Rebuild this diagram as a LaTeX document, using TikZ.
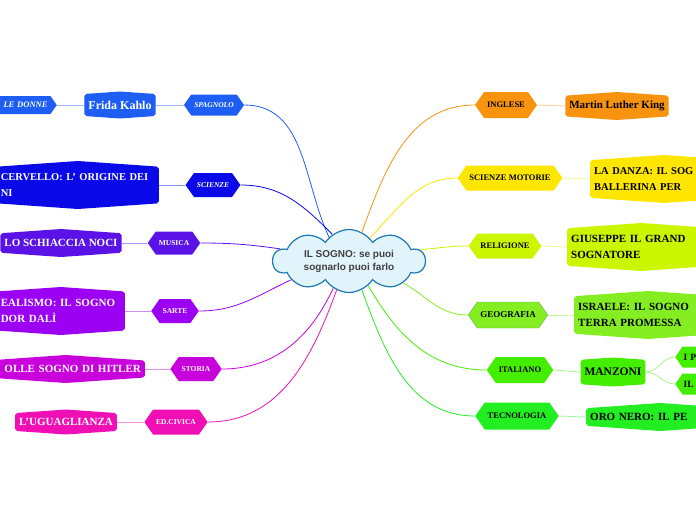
\documentclass[tikz,border=0pt]{standalone}
\usepackage{fontspec}
\setmainfont{Liberation Serif}
\newfontfamily\cloudfont{Liberation Sans}
\usetikzlibrary{shapes.symbols}

\definecolor{blueA}{HTML}{1E5EF2}
\definecolor{blueB}{HTML}{0A0AE8}
\definecolor{violetC}{HTML}{5A12E6}
\definecolor{purpleD}{HTML}{9B00F2}
\definecolor{magE}{HTML}{C800DC}
\definecolor{pinkF}{HTML}{F00FB4}
\definecolor{orangeG}{HTML}{F7930F}
\definecolor{yellowH}{HTML}{FFE600}
\definecolor{limeI}{HTML}{CCF500}
\definecolor{greenJ}{HTML}{84EE22}
\definecolor{greenK}{HTML}{44EE00}
\definecolor{greenL}{HTML}{22EE22}
\definecolor{cloudfill}{HTML}{E2F4FB}
\definecolor{cloudline}{HTML}{1A7AB0}

\begin{document}
\begin{tikzpicture}[x=1pt,y=1pt,
  subj/.style={signal, signal to=west and east, signal pointer angle=110, fill=#1,
    inner xsep=3pt, inner ysep=2pt, minimum height=21, font=\bfseries\fontsize{7.5}{9}\selectfont},
  leaf/.style={signal, signal to=north and south, signal pointer angle=172, rounded corners=2pt,
    fill=#1, inner xsep=4pt, minimum height=28, font=\bfseries\fontsize{11}{16}\selectfont},
  branch/.style={line width=0.8pt, #1},
  twig/.style={line width=0.8pt, #1!45}]
\useasboundingbox (0,0) rectangle (696,-520);
\clip (0,0) rectangle (696,-520);

\node[cloud, cloud puffs=10, cloud puff arc=115, cloud ignores aspect, draw=cloudline, line width=1.2pt,
  fill=cloudfill, minimum width=152, minimum height=63, align=center, text=black!75,
  font=\cloudfont\bfseries\fontsize{10}{13}\selectfont] (sogno) at (349,-261) {IL SOGNO: se puoi\\sognarlo puoi farlo};

% left side
\node[subj=blueA, text=white, font=\bfseries\itshape\fontsize{7.5}{9}\selectfont] (spagnolo) at (214,-105) {SPAGNOLO};
\node[leaf=blueA, text=white, minimum height=27, font=\bfseries\fontsize{12}{14}\selectfont] (frida) at (120,-105) {Frida Kahlo};
\node[subj=blueA, text=white, anchor=east, text width=70, align=right, minimum height=18,
  font=\bfseries\itshape\fontsize{8.5}{10}\selectfont] (donne) at (57,-105) {LE DONNE};

\node[subj=blueB, text=white, font=\bfseries\itshape\fontsize{7.5}{9}\selectfont, minimum height=24] (scienze) at (213,-185) {SCIENZE};
\node[leaf=blueB, text=white, anchor=east, text width=154, align=left, minimum height=48,
  font=\bfseries\fontsize{10.5}{16}\selectfont] (cervello) at (159,-185) {CERVELLO: L' ORIGINE DEI\\NI};

\node[subj=violetC, text=white, minimum height=23] (musica) at (174,-243) {MUSICA};
\node[leaf=violetC, text=white] (noci) at (61,-243) {LO SCHIACCIA NOCI};

\node[subj=purpleD, text=white, minimum height=24] (sarte) at (175,-311) {SARTE};
\node[leaf=purpleD, text=white, anchor=east, text width=120, align=left, minimum height=48] (dali) at (125,-311) {EALISMO: IL SOGNO\\DOR DALÌ};

\node[subj=magE, text=white, minimum height=24] (storia) at (196,-369) {STORIA};
\node[leaf=magE, text=white, anchor=east, text width=150, align=right] (hitler) at (145,-369) {OLLE SOGNO DI HITLER};

\node[subj=pinkF, text=white, minimum height=25] (civica) at (176,-422) {ED.CIVICA};
\node[leaf=pinkF, text=white, minimum height=25] (uguaglianza) at (66,-422) {L'UGUAGLIANZA};

% right side
\node[subj=orangeG, minimum height=26, font=\bfseries\fontsize{8.5}{10}\selectfont] (inglese) at (506,-105) {INGLESE};
\node[leaf=orangeG] (king) at (617,-106) {Martin Luther King};

\node[subj=yellowH, minimum height=25, font=\bfseries\fontsize{8.5}{10}\selectfont] (motorie) at (510,-178) {SCIENZE MOTORIE};
\node[leaf=yellowH, anchor=west, text width=140, align=left, minimum height=48,
  font=\bfseries\fontsize{10.5}{16}\selectfont] (danza) at (590,-179) {LA DANZA: IL SOG\\BALLERINA PER};

\node[subj=limeI, minimum height=25, font=\bfseries\fontsize{8.5}{10}\selectfont] (religione) at (505,-246) {RELIGIONE};
\node[leaf=limeI, anchor=west, text width=140, align=left, minimum height=48] (giuseppe) at (567,-247) {GIUSEPPE IL GRAND\\SOGNATORE};

\node[subj=greenJ, draw=green!50!black!60, minimum height=26, font=\bfseries\fontsize{9}{10}\selectfont] (geografia) at (508,-315) {GEOGRAFIA};
\node[leaf=greenJ, anchor=west, text width=140, align=left, minimum height=48] (israele) at (574,-315) {ISRAELE: IL SOGNO\\TERRA PROMESSA};

\node[subj=greenK, minimum height=26, font=\bfseries\fontsize{8.5}{10}\selectfont] (italiano) at (520,-370) {ITALIANO};
\node[leaf=greenK, font=\bfseries\fontsize{11.5}{14}\selectfont, minimum height=29] (manzoni) at (613,-372) {MANZONI};
\node[subj=greenK, anchor=west, text width=40, align=left, minimum height=21, inner xsep=1pt,
  font=\bfseries\fontsize{9.5}{12}\selectfont] (ip) at (675,-357) {I P};
\node[subj=greenK, anchor=west, text width=40, align=left, minimum height=21, inner xsep=1pt,
  font=\bfseries\fontsize{9.5}{12}\selectfont] (il) at (675,-384) {IL};

\node[subj=greenL, minimum height=27, font=\bfseries\fontsize{8.5}{10}\selectfont] (tecnologia) at (517,-416) {TECNOLOGIA};
\node[leaf=greenL, anchor=west, text width=140, align=left] (oro) at (586,-417) {ORO NERO: IL PE};

% twigs
\draw[twig=blueA] (donne.east) -- (frida.west);
\draw[twig=blueA] (frida.east) -- (spagnolo.west);
\draw[twig=blueB] (cervello.east) -- (scienze.west);
\draw[twig=violetC] (noci.east) -- (musica.west);
\draw[twig=purpleD] (dali.east) -- (sarte.west);
\draw[twig=magE] (hitler.east) -- (storia.west);
\draw[twig=pinkF] (uguaglianza.east) -- (civica.west);
\draw[twig=orangeG] (inglese.east) -- (king.west);
\draw[twig=yellowH] (motorie.east) -- (danza.west);
\draw[twig=limeI] (religione.east) -- (giuseppe.west);
\draw[twig=greenJ] (geografia.east) -- (israele.west);
\draw[twig=greenK] (italiano.east) -- (manzoni.west);
\draw[twig=greenK] (manzoni.east) to[out=0, in=180] (ip.west);
\draw[twig=greenK] (manzoni.east) to[out=0, in=180] (il.west);
\draw[twig=greenL] (tecnologia.east) -- (oro.west);

% branches to the centre
\draw[branch=blueA] (spagnolo.east) to[out=0, in=115] (sogno.130);
\draw[branch=blueB] (scienze.east) to[out=0, in=135] (sogno.122);
\draw[branch=violetC] (musica.east) to[out=0, in=172] (sogno.170);
\draw[branch=purpleD] (sarte.east) to[out=0, in=205] (sogno.198);
\draw[branch=magE] (storia.east) to[out=0, in=245] (sogno.240);
\draw[branch=pinkF] (civica.east) to[out=0, in=250] (sogno.247);
\draw[branch=orangeG] (inglese.west) to[out=180, in=70] (sogno.66);
\draw[branch=yellowH] (motorie.west) to[out=180, in=45] (sogno.48);
\draw[branch=limeI] (religione.west) to[out=180, in=5] (sogno.9);
\draw[branch=greenJ] (geografia.west) to[out=180, in=-30] (sogno.-22);
\draw[branch=greenK] (italiano.west) to[out=180, in=-60] (sogno.-52);
\draw[branch=greenL] (tecnologia.west) to[out=180, in=-70] (sogno.-66);
\end{tikzpicture}
\end{document}
